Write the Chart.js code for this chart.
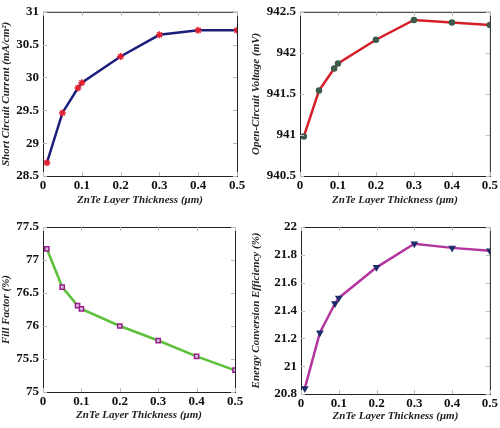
<!DOCTYPE html>
<html>
<head>
<meta charset="utf-8">
<script src="https://cdn.jsdelivr.net/npm/chart.js@4.4.0/dist/chart.umd.min.js"></script>
<style>
  body { margin: 0; background: #fff; }
  .wrap { position: relative; width: 500px; height: 428px; }
  .wrap canvas { position: absolute; }
</style>
</head>
<body>
<div class="wrap">
  <canvas id="c1" width="250" height="214" style="left:0;top:0"></canvas>
  <canvas id="c2" width="250" height="214" style="left:250px;top:0"></canvas>
  <canvas id="c3" width="250" height="214" style="left:0;top:214px"></canvas>
  <canvas id="c4" width="250" height="214" style="left:250px;top:214px"></canvas>
</div>
<script>
const thickness = [0.01, 0.05, 0.09, 0.1, 0.2, 0.3, 0.4, 0.5];
const jsc = [28.70, 29.46, 29.84, 29.92, 30.32, 30.65, 30.72, 30.72];
const voc = [940.98, 941.54, 941.81, 941.87, 942.16, 942.40, 942.37, 942.34];
const fillFactor = [77.17, 76.59, 76.31, 76.26, 76.00, 75.78, 75.54, 75.33];
const efficiency = [20.84, 21.24, 21.45, 21.49, 21.71, 21.88, 21.85, 21.83];
const xLabel = 'ZnTe Layer Thickness (\u03bcm)';

// black box around plot area + small inward ticks (matlab look)
const boxPlugin = {
    id: 'box',
    afterDraw(chart) {
        const ctx = chart.ctx;
        const a = chart.chartArea;
        ctx.save();
        ctx.strokeStyle = '#222';
        ctx.lineWidth = 1;
        ctx.strokeRect(a.left + 0.5, a.top + 0.5, a.right - a.left, a.bottom - a.top);
        ctx.strokeStyle = '#bbb';
        chart.scales.x.ticks.forEach(t => {
            const px = Math.round(chart.scales.x.getPixelForValue(t.value)) + 0.5;
            ctx.beginPath();
            ctx.moveTo(px, a.top); ctx.lineTo(px, a.top + 4);
            ctx.moveTo(px, a.bottom); ctx.lineTo(px, a.bottom - 4);
            ctx.stroke();
        });
        chart.scales.y.ticks.forEach(t => {
            const py = Math.round(chart.scales.y.getPixelForValue(t.value)) + 0.5;
            ctx.beginPath();
            ctx.moveTo(a.left, py); ctx.lineTo(a.left + 4, py);
            ctx.moveTo(a.right, py); ctx.lineTo(a.right - 4, py);
            ctx.stroke();
        });
        ctx.restore();
    }
};

function makeChart(id, values, opts) {
    const pts = thickness.map((x, i) => ({x: x, y: values[i]}));
    return new Chart(document.getElementById(id), {
        type: 'scatter',
        data: {
            datasets: [{
                data: pts,
                showLine: true,
                borderColor: opts.line,
                borderWidth: 2.5,
                pointStyle: opts.marker,
                pointRadius: opts.radius || 3,
                pointRotation: opts.rotation || 0,
                pointBorderColor: opts.markerColor,
                pointBackgroundColor: opts.markerFill,
                pointBorderWidth: 1.5
            }]
        },
        options: {
            responsive: false,
            animation: false,
            layout: { padding: { top: opts.top, right: opts.right, left: 0, bottom: opts.bottomPad } },
            plugins: { legend: { display: false }, tooltip: { enabled: false } },
            scales: {
                x: {
                    type: 'linear',
                    min: 0, max: 0.5,
                    ticks: {
                        stepSize: 0.1,
                        color: '#111',
                        padding: 2,
                        font: { family: 'Liberation Serif', size: 13, weight: 'bold' },
                        callback: v => String(Math.round(v * 10) / 10)
                    },
                    grid: { display: false, drawTicks: false },
                    border: { display: false },
                    title: {
                        display: true,
                        text: xLabel,
                        color: '#222',
                        padding: { top: 3, bottom: 0 },
                        font: { family: 'Liberation Serif', size: 11, weight: 'bold', style: 'italic' }
                    },
                    afterFit(scale) { scale.height = opts.bottomH; }
                },
                y: {
                    min: opts.min, max: opts.max,
                    ticks: {
                        stepSize: opts.step,
                        color: '#111',
                        padding: 4,
                        font: { family: 'Liberation Serif', size: 13, weight: 'bold' },
                        callback: v => String(Math.round(v * 10) / 10)
                    },
                    grid: { display: false, drawTicks: false },
                    border: { display: false },
                    title: {
                        display: true,
                        text: opts.yLabel,
                        color: '#222',
                        padding: { top: 0, bottom: 2 },
                        font: { family: 'Liberation Serif', size: 11, weight: 'bold', style: 'italic' }
                    },
                    afterFit(scale) { scale.width = opts.leftW; }
                }
            }
        },
        plugins: [boxPlugin]
    });
}

makeChart('c1', jsc, {
    yLabel: 'Short Circuit Current (mA/cm\u00b2)',
    min: 28.5, max: 31, step: 0.5,
    line: '#1b1f7a', marker: 'star', markerColor: '#e02030', markerFill: '#e02030', radius: 3.5,
    top: 7, right: 13, leftW: 43, bottomH: 31, bottomPad: 7
});
makeChart('c2', voc, {
    yLabel: 'Open-Circuit Voltage (mV)',
    min: 940.5, max: 942.5, step: 0.5,
    line: '#d41f28', marker: 'circle', markerColor: '#3e5a48', markerFill: '#3e5a48', radius: 2.5,
    top: 7, right: 7, leftW: 50, bottomH: 31, bottomPad: 7
});
makeChart('c3', fillFactor, {
    yLabel: 'Fill Factor (%)',
    min: 75, max: 77.5, step: 0.5,
    line: '#5cc03a', marker: 'rect', markerColor: '#9a1f8a', markerFill: '#d9c0e0', radius: 3,
    top: 13, right: 15, leftW: 43, bottomH: 30, bottomPad: 6
});
makeChart('c4', efficiency, {
    yLabel: 'Energy Conversion Efficiency (%)',
    min: 20.8, max: 22, step: 0.2,
    line: '#b3359f', marker: 'triangle', rotation: 180, markerColor: '#1f2d6a', markerFill: '#1f2d6a', radius: 3,
    top: 13, right: 3, leftW: 51, bottomH: 29, bottomPad: 5
});
</script>
</body>
</html>
